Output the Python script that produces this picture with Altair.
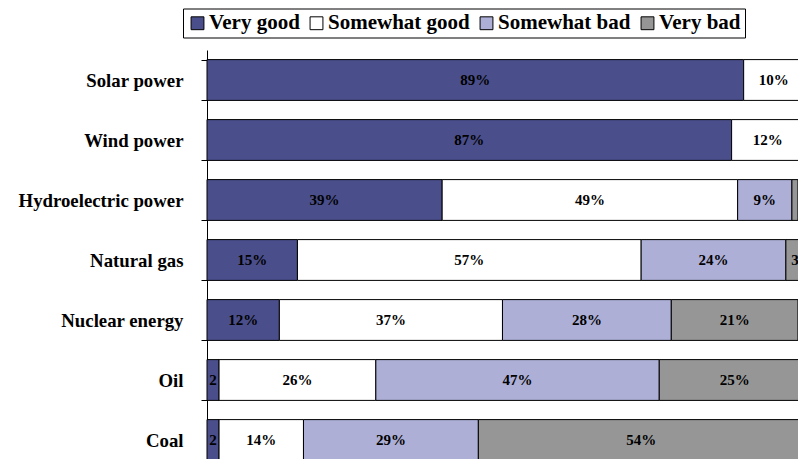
import altair as alt
import pandas as pd

categories = ["Solar power", "Wind power", "Hydroelectric power", "Natural gas",
              "Nuclear energy", "Oil", "Coal"]
responses = ["Very good", "Somewhat good", "Somewhat bad", "Very bad"]
very_good = [89, 87, 39, 15, 12, 2, 2]
somewhat_good = [10, 12, 49, 57, 37, 26, 14]
somewhat_bad = [0, 0, 9, 24, 28, 47, 29]
very_bad = [0, 0, 1, 3, 21, 25, 54]
colors = ["#4A4E8A", "#FFFFFF", "#ADAFD6", "#969696"]

FONT = "Liberation Serif"

series = [very_good, somewhat_good, somewhat_bad, very_bad]
rows = []
for i, cat in enumerate(categories):
    start = 0
    for j, resp in enumerate(responses):
        v = series[j][i]
        if v > 0:
            if v >= 5:
                lab = f"{v}%"
            elif v >= 2:
                lab = str(v)
            else:
                lab = ""
            rows.append({"category": cat, "response": resp, "value": v,
                         "order": j, "start": start, "end": start + v,
                         "mid": start + v / 2, "label": lab})
        start += v
df = pd.DataFrame(rows)

xscale = alt.Scale(domain=[0, 100], range=[0, 603])
yscale = alt.Scale(paddingInner=0.32, paddingOuter=0.16, range=[0, 420])
yenc = alt.Y("category:N", sort=categories, scale=yscale,
             axis=alt.Axis(title=None, labelFont=FONT, labelFontSize=18.8,
                           labelFontWeight="bold", labelColor="black",
                           domainColor="black", tickColor="black", tickSize=6,
                           tickBand="extent", labelPadding=18, grid=False))

bars = alt.Chart(df).mark_bar(stroke="black", strokeWidth=1).encode(
    y=yenc,
    x=alt.X("start:Q", scale=xscale, axis=None),
    x2="end:Q",
    color=alt.Color("response:N", sort=responses,
                    scale=alt.Scale(domain=responses, range=colors),
                    legend=alt.Legend(orient="none", legendX=-24, legendY=-41.5,
                                      direction="horizontal", title=None,
                                      symbolType="square", symbolSize=165,
                                      symbolStrokeColor="black", symbolStrokeWidth=1,
                                      labelFont=FONT, labelFontSize=21,
                                      labelFontWeight="bold", labelColor="black",
                                      columnPadding=6, labelOffset=1,
                                      strokeColor="black", fillColor="white",
                                      padding=4)),
)

text = alt.Chart(df).mark_text(font=FONT, fontSize=15, fontWeight="bold",
                               color="black", baseline="middle").encode(
    y=alt.Y("category:N", sort=categories, scale=yscale),
    x=alt.X("mid:Q", scale=xscale),
    text="label:N",
)

chart = alt.layer(bars, text).properties(
    width=591, height=409, autosize="none",
    padding={"left": 199, "top": 42, "right": 0, "bottom": 0},
).configure_view(stroke=None)

chart.save("out.html", embed_options={"renderer": "svg", "actions": False})
